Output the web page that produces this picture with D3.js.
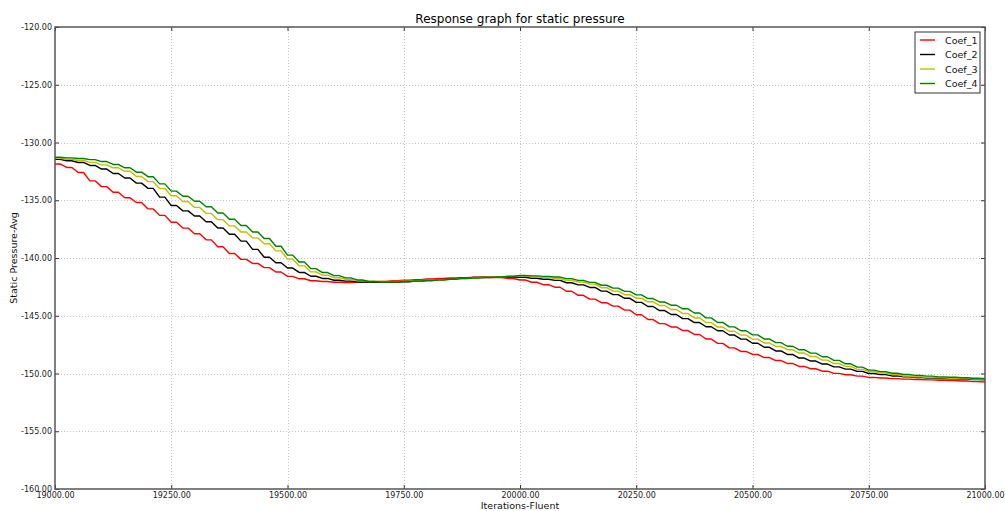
<!DOCTYPE html>
<html>
<head>
<meta charset="utf-8">
<script src="https://cdn.jsdelivr.net/npm/d3@7"></script>
<style>
  body { margin: 0; background: #fff; }
  svg { display: block; }
  text { font-family: "DejaVu Sans", sans-serif; }
</style>
</head>
<body>
<svg id="chart" width="1005" height="511"></svg>
<script>
// Iteration grid of the monitored run (one sample every 25 iterations)
const iterStart = 19000, iterEnd = 21000, iterStep = 25;
const iterations = d3.range(iterStart, iterEnd + 1, iterStep);

// Static pressure (area-weighted average) for each coefficient set
const coef1 = [
  -131.86, -132.16, -132.60, -133.32, -133.82, -134.31, -134.79, -135.19, -135.75, -136.31,
  -136.91, -137.41, -137.90, -138.43, -139.02, -139.61, -140.12, -140.47, -140.83, -141.21,
  -141.59, -141.80, -141.97, -142.03, -142.10, -142.12, -142.09, -142.06, -142.02, -141.97,
  -141.92, -141.87, -141.82, -141.77, -141.73, -141.71, -141.67, -141.69, -141.70, -141.77,
  -141.90, -142.10, -142.31, -142.53, -142.88, -143.23, -143.56, -143.87, -144.17, -144.51,
  -144.91, -145.33, -145.68, -145.97, -146.28, -146.62, -147.01, -147.39, -147.78, -148.09,
  -148.35, -148.62, -148.88, -149.13, -149.39, -149.59, -149.80, -149.99, -150.11, -150.23,
  -150.34, -150.39, -150.44, -150.49, -150.52, -150.55, -150.58, -150.61, -150.65, -150.70,
  -150.73
];
const coef2 = [
  -131.45, -131.58, -131.73, -131.99, -132.30, -132.68, -133.07, -133.52, -133.97, -134.73,
  -135.46, -135.92, -136.37, -136.86, -137.40, -137.94, -138.54, -139.25, -139.94, -140.41,
  -140.87, -141.25, -141.58, -141.77, -141.93, -142.00, -142.08, -142.09, -142.10, -142.10,
  -142.05, -142.00, -141.95, -141.87, -141.80, -141.74, -141.69, -141.64, -141.63, -141.65,
  -141.67, -141.75, -141.84, -141.94, -142.14, -142.33, -142.55, -142.87, -143.17, -143.49,
  -143.84, -144.20, -144.55, -144.89, -145.25, -145.59, -145.95, -146.30, -146.67, -147.02,
  -147.38, -147.73, -148.05, -148.35, -148.66, -148.92, -149.18, -149.43, -149.62, -149.82,
  -150.00, -150.10, -150.21, -150.29, -150.34, -150.39, -150.43, -150.46, -150.49, -150.53,
  -150.55
];
const coef3 = [
  -131.37, -131.45, -131.56, -131.72, -131.94, -132.19, -132.49, -132.94, -133.39, -133.99,
  -134.61, -135.11, -135.62, -136.14, -136.68, -137.22, -137.75, -138.26, -138.77, -139.38,
  -140.10, -140.68, -141.20, -141.49, -141.71, -141.84, -141.97, -142.00, -142.03, -142.04,
  -142.01, -141.97, -141.93, -141.88, -141.83, -141.77, -141.72, -141.67, -141.63, -141.59,
  -141.56, -141.63, -141.70, -141.78, -141.93, -142.08, -142.26, -142.57, -142.87, -143.18,
  -143.48, -143.79, -144.11, -144.46, -144.81, -145.19, -145.58, -145.98, -146.34, -146.68,
  -147.02, -147.36, -147.66, -147.94, -148.23, -148.53, -148.84, -149.14, -149.39, -149.64,
  -149.83, -149.96, -150.09, -150.23, -150.28, -150.34, -150.38, -150.41, -150.44, -150.47,
  -150.49
];
const coef4 = [
  -131.28, -131.33, -131.39, -131.48, -131.65, -131.90, -132.19, -132.57, -132.96, -133.58,
  -134.21, -134.65, -135.09, -135.56, -136.10, -136.64, -137.19, -137.75, -138.31, -138.98,
  -139.75, -140.35, -140.92, -141.26, -141.53, -141.72, -141.90, -142.03, -142.08, -142.07,
  -142.03, -141.99, -141.95, -141.90, -141.85, -141.79, -141.74, -141.70, -141.64, -141.58,
  -141.52, -141.55, -141.59, -141.65, -141.79, -141.94, -142.11, -142.36, -142.61, -142.89,
  -143.19, -143.51, -143.81, -144.09, -144.40, -144.76, -145.18, -145.58, -145.96, -146.30,
  -146.66, -147.01, -147.33, -147.64, -147.94, -148.24, -148.55, -148.86, -149.16, -149.45,
  -149.71, -149.84, -149.98, -150.09, -150.16, -150.23, -150.29, -150.33, -150.37, -150.41,
  -150.44
];

const seriesNames = ["Coef_1", "Coef_2", "Coef_3", "Coef_4"];
const seriesValues = [coef1, coef2, coef3, coef4];
const seriesColors = ["#ff0000", "#000000", "#bfbf00", "#008000"];

const xTicks = [19000, 19250, 19500, 19750, 20000, 20250, 20500, 20750, 21000];
const yTicks = [-160, -155, -150, -145, -140, -135, -130, -125, -120];

const titleText = "Response graph for static pressure";
const xLabelText = "Iterations-Fluent";
const yLabelText = "Static Pressure-Avg";

// ---- layout ----
const W = 1005, H = 511;
const margin = { left: 55, right: 20, top: 27, bottom: 22 };
const plotW = W - margin.left - margin.right;
const plotH = H - margin.top - margin.bottom;

const svg = d3.select("#chart");
const g = svg.append("g").attr("transform", `translate(${margin.left},${margin.top})`);

const x = d3.scaleLinear().domain([iterStart, iterEnd]).range([0, plotW]);
const y = d3.scaleLinear().domain([-160, -120]).range([plotH, 0]);

// two decimals with a plain ASCII hyphen for negatives
const fmt = d => d.toFixed(2);

// grid (dotted)
g.append("g").selectAll("line").data(xTicks.slice(1, -1)).join("line")
  .attr("x1", d => Math.round(x(d)) + 0.5).attr("x2", d => Math.round(x(d)) + 0.5)
  .attr("y1", 0).attr("y2", plotH)
  .attr("stroke", "#c4c4c4").attr("stroke-width", 1).attr("stroke-dasharray", "1,2");
g.append("g").selectAll("line").data(yTicks.slice(1, -1)).join("line")
  .attr("y1", d => Math.round(y(d)) + 0.5).attr("y2", d => Math.round(y(d)) + 0.5)
  .attr("x1", 0).attr("x2", plotW)
  .attr("stroke", "#c4c4c4").attr("stroke-width", 1).attr("stroke-dasharray", "1,2");

// staircase-like curve: hold each sample briefly, then ramp to the next one
const holdFraction = 0.45;
function curveStair(context) {
  return {
    areaStart() {}, areaEnd() {},
    lineStart() { this._p = null; },
    lineEnd() {},
    point(px, py) {
      px = +px; py = +py;
      if (!this._p) context.moveTo(px, py);
      else {
        const [qx, qy] = this._p;
        context.lineTo(qx + (px - qx) * holdFraction, qy);
        context.lineTo(px, py);
      }
      this._p = [px, py];
    }
  };
}

const line = d3.line()
  .x((d, i) => x(iterations[i]))
  .y(d => y(d))
  .curve(curveStair);

svg.append("defs").append("clipPath").attr("id", "plotclip")
  .append("rect").attr("width", plotW).attr("height", plotH);

g.append("g").attr("clip-path", "url(#plotclip)")
  .selectAll("path").data(seriesValues).join("path")
  .attr("d", d => line(d))
  .attr("fill", "none")
  .attr("stroke", (d, i) => seriesColors[i])
  .attr("stroke-width", 1.4)
  .attr("stroke-linejoin", "round");

// axes: ticks pointing inward on all four sides
const tickLen = 4;
const axisColor = "#333";
const xAxisB = d3.axisBottom(x).tickValues(xTicks).tickFormat(fmt).tickSizeInner(-tickLen).tickSizeOuter(0).tickPadding(3);
const yAxisL = d3.axisLeft(y).tickValues(yTicks).tickFormat(fmt).tickSizeInner(-tickLen).tickSizeOuter(0).tickPadding(3);
const xAxisT = d3.axisTop(x).tickValues(xTicks).tickFormat("").tickSizeInner(-tickLen).tickSizeOuter(0);
const yAxisR = d3.axisRight(y).tickValues(yTicks).tickFormat("").tickSizeInner(-tickLen).tickSizeOuter(0);

function styleAxis(sel) {
  sel.select(".domain").remove();
  sel.selectAll(".tick line").attr("stroke", axisColor);
  sel.selectAll(".tick text").attr("fill", "#222").style("font-family", "DejaVu Sans, sans-serif").attr("font-size", 8);
}
g.append("g").attr("transform", `translate(0,${plotH})`).call(xAxisB).call(styleAxis);
g.append("g").call(yAxisL).call(styleAxis);
g.append("g").call(xAxisT).call(styleAxis);
g.append("g").attr("transform", `translate(${plotW},0)`).call(yAxisR).call(styleAxis);

// frame
g.append("rect").attr("width", plotW).attr("height", plotH)
  .attr("fill", "none").attr("stroke", "#555").attr("stroke-width", 1.5);

// title and axis labels
svg.append("text").attr("x", margin.left + plotW / 2).attr("y", 23)
  .attr("text-anchor", "middle").attr("font-size", 12).attr("fill", "#000").text(titleText);
svg.append("text").attr("x", margin.left + plotW / 2).attr("y", 509)
  .attr("text-anchor", "middle").attr("font-size", 9.5).attr("fill", "#111").text(xLabelText);
svg.append("text").attr("transform", `translate(17,${margin.top + plotH / 2}) rotate(-90)`)
  .attr("text-anchor", "middle").attr("font-size", 9.5).attr("fill", "#111").text(yLabelText);

// legend
const legW = 65, legRow = 14.5;
const leg = g.append("g").attr("transform", `translate(${plotW - 5 - legW},5)`);
leg.append("rect").attr("width", legW).attr("height", 61)
  .attr("fill", "#fff").attr("stroke", "#333").attr("stroke-width", 1);
const items = leg.selectAll("g.item").data(seriesNames).join("g").attr("class", "item")
  .attr("transform", (d, i) => `translate(0,${8 + i * legRow})`);
items.append("line").attr("x1", 5).attr("x2", 20).attr("y1", 0).attr("y2", 0)
  .attr("stroke", (d, i) => seriesColors[i]).attr("stroke-width", 1.4);
items.append("text").attr("x", 30).attr("y", 3.5).attr("font-size", 9.5).attr("fill", "#111").text(d => d);
</script>
</body>
</html>
